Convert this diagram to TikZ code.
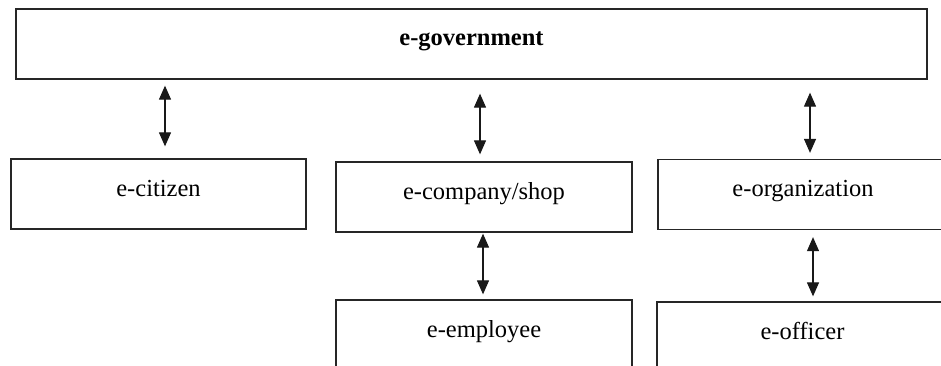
\documentclass[tikz,border=0pt]{standalone}
\usepackage{fontspec}
\setmainfont{Liberation Serif}
\usetikzlibrary{arrows.meta, positioning, calc}

\begin{document}
\begin{tikzpicture}[x=1pt,y=-1pt,
    box/.style={draw=black!85,line width=1.3pt,fill=white,
               font=\fontsize{24.5}{28}\selectfont,inner sep=0pt,
               text height=37pt,text depth=33pt,minimum height=70pt},
    link/.style={{Triangle[width=12pt,length=14pt]}-{Triangle[width=12pt,length=14pt]},
               draw=black!90,line width=1.2pt}
  ]
    \useasboundingbox (0,0) rectangle (941,365);
    \fill[white] (0,0) rectangle (941,365);
    \clip (0,0) rectangle (941,365);
    % levels
    \node[box,minimum width=911pt,font=\fontsize{24.5}{28}\selectfont\bfseries,
          text height=36pt,text depth=34pt] (gov) at (471.5,44) {e-government};
    \node[box,minimum width=295pt] (cit) at (158.5,194) {e-citizen};
    \node[box,minimum width=296pt] (comp) at (484,197) {e-company/shop};
    \node[box,minimum width=290pt] (org) at (803,194.5) {e-organization};
    \node[box,minimum width=296pt] (emp) at (484,335) {e-employee};
    \node[box,minimum width=291pt] (off) at (802.5,337) {e-officer};
    % links
    \draw[link,shorten <=6pt,shorten >=12pt] ([xshift=6.5pt]gov.south -| cit) -- ([xshift=6.5pt]cit.north);
    \draw[link,shorten <=14pt,shorten >=7pt] ([xshift=-4pt]gov.south -| comp) -- ([xshift=-4pt]comp.north);
    \draw[link,shorten <=13pt,shorten >=6pt] ([xshift=7pt]gov.south -| org) -- ([xshift=7pt]org.north);
    \draw[link,shorten <=1pt,shorten >=5pt] ([xshift=-1pt]comp.south) -- ([xshift=-1pt]emp.north);
    \draw[link,shorten <=7pt,shorten >=5pt] ([xshift=10pt]org.south) -- ([xshift=10pt]org.south |- off.north);
\end{tikzpicture}
\end{document}
